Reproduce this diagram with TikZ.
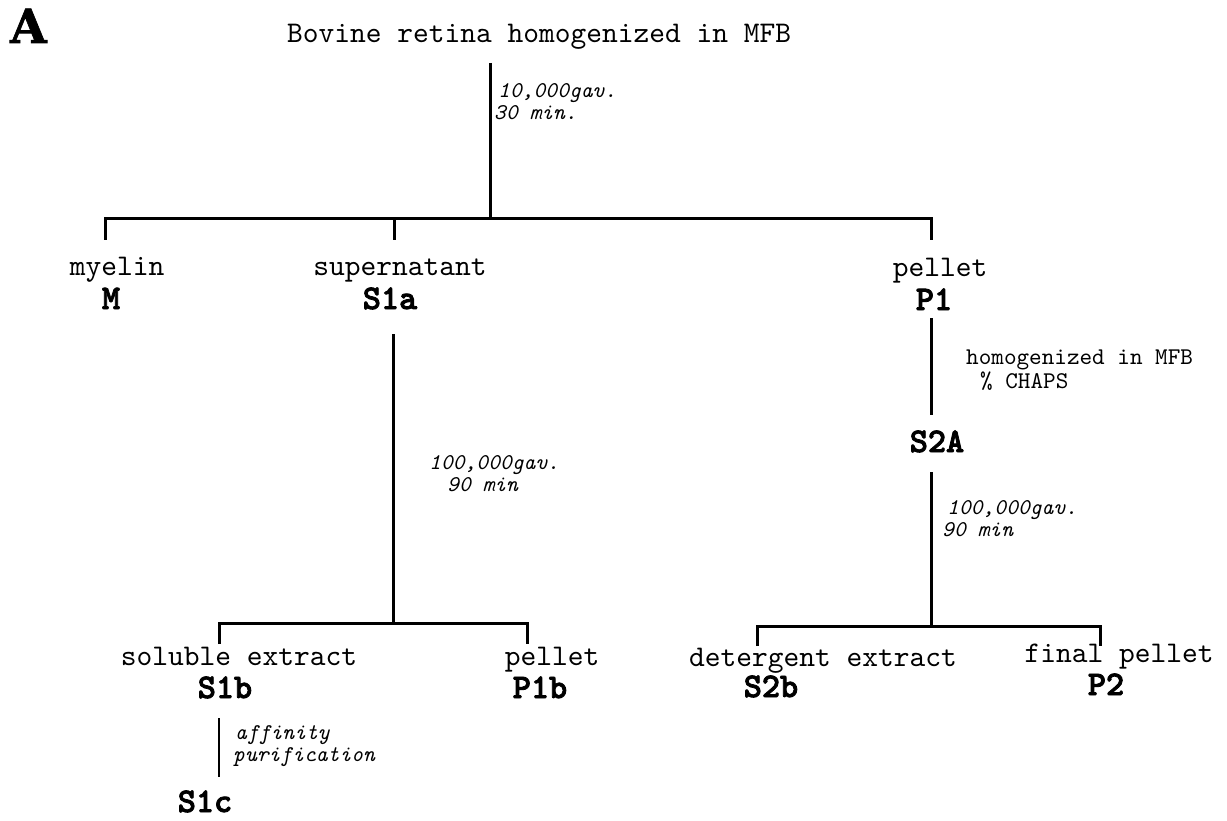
\documentclass[tikz,border=0pt]{standalone}
\usepackage{fontspec}
\newfontfamily\regfont{lmmono10-regular.otf}
\newfontfamily\itfont{lmmono10-italic.otf}
\newfontfamily\boldfont{lmmonolt10-bold.otf}[FakeBold=2.4]
\newfontfamily\heavyfont{DejaVu Serif}[FakeBold=1.5]
\begin{document}
\begin{tikzpicture}[x=1pt,y=-1pt,
  lbl/.style={font=\fontsize{30}{32}\selectfont\regfont, inner sep=0pt, anchor=base},
  code/.style={font=\fontsize{34.5}{36}\selectfont\boldfont, inner sep=0pt, anchor=base},
  note/.style={font=\fontsize{22.5}{22}\selectfont\itfont, inner sep=0pt, anchor=base west, align=left},
  unote/.style={font=\fontsize{24}{24}\selectfont\regfont, inner sep=0pt, anchor=base west, align=left},
  ln/.style={line width=3pt, line join=miter}]
\useasboundingbox (0,0) rectangle (1227,821);
% panel letter and title
\node[inner sep=0pt, anchor=base west, font=\fontsize{47}{50}\selectfont\heavyfont\bfseries] (panel) at (10,43) {A};
\node[lbl, anchor=base west] (title) at (287,43) {Bovine retina homogenized in MFB};
% first spin
\coordinate (t1) at (490,63);
\coordinate (j1) at (490,219);
\coordinate (b1l) at (105,219);
\coordinate (b1m) at (394,219);
\coordinate (b1r) at (931,219);
\coordinate (d1l) at (105,240);
\coordinate (d1m) at (394,240);
\coordinate (d1r) at (931,240);
\draw[ln] (t1) -- (j1);
\draw[ln] (d1l) -- (b1l) -- (b1r) -- (d1r);
\draw[ln] (b1m) -- (d1m);
\node[note] (n1) at (494,120) {\hspace*{4pt}10,000gav.\\30 min.};
% first row of fractions
\node[lbl] (myelin) at (117,276) {myelin};
\node[code] (M) at (111,309) {M};
\node[lbl] (super) at (400,276) {supernatant};
\node[code] (S1a) at (390,309) {S1a};
\node[lbl] (pellet1) at (940,277) {pellet};
\node[code] (P1) at (934,310) {P1};
% S1a spin
\coordinate (t2) at (393,334);
\coordinate (j2) at (393,623);
\coordinate (b2l) at (219,623);
\coordinate (b2r) at (527,623);
\coordinate (d2l) at (219,644);
\coordinate (d2r) at (527,644);
\draw[ln] (t2) -- (j2);
\draw[ln] (d2l) -- (b2l) -- (b2r) -- (d2r);
\node[note] (n2) at (429,491) {100,000gav.\\\hspace*{18pt}90 min};
\node[lbl] (soluble) at (239,665) {soluble extract};
\node[code] (S1b) at (225,698) {S1b};
\node[lbl] (pellet2) at (552,665) {pellet};
\node[code] (P1b) at (540,698) {P1b};
% affinity
\coordinate (t3) at (219,718);
\coordinate (e3) at (219,777);
\draw[line width=2.6pt] (t3) -- (e3);
\node[note] (n3) at (233,761) {\hspace*{2pt}affinity\\purification};
\node[code] (S1c) at (205,812) {S1c};
% P1 homogenization
\coordinate (t4) at (931,318);
\coordinate (e4) at (931,415);
\draw[ln] (t4) -- (e4);
\node[unote] (n4) at (966,388) {homogenized in MFB\\\hspace*{14pt}\% CHAPS};
\node[code] (S2A) at (937,452) {S2A};
% S2A spin
\coordinate (t5) at (931,472);
\coordinate (j5) at (931,626);
\coordinate (b5l) at (757,626);
\coordinate (b5r) at (1100,626);
\coordinate (d5l) at (757,646);
\coordinate (d5r) at (1100,646);
\draw[ln] (t5) -- (j5);
\draw[ln] (d5l) -- (b5l) -- (b5r) -- (d5r);
\node[note] (n5) at (942,536) {\hspace*{5pt}100,000gav.\\90 min};
\node[lbl] (deterg) at (823,666) {detergent extract};
\node[code] (S2b) at (771,697) {S2b};
\node[lbl] (final) at (1119,662) {final pellet};
\node[code] (P2) at (1106,695) {P2};
\end{tikzpicture}
\end{document}
